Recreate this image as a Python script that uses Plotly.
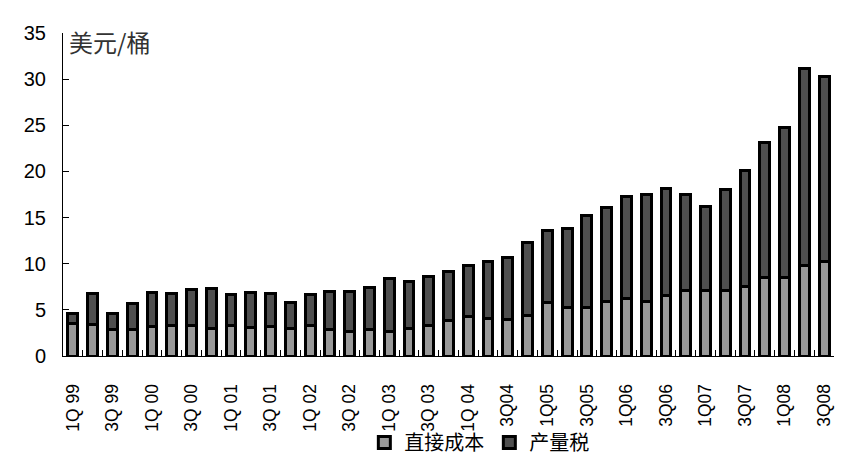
import plotly.graph_objects as go

# quarters 1Q99 .. 3Q08
quarters = [f"{q}Q{y:02d}" for y in [99, 0, 1, 2, 3, 4, 5, 6, 7, 8] for q in [1, 2, 3, 4]][:39]
tick_text = ["1Q 99", "", "3Q 99", "", "1Q 00", "", "3Q 00", "", "1Q 01", "", "3Q 01", "",
             "1Q 02", "", "3Q 02", "", "1Q 03", "", "3Q 03", "", "1Q 04", "", "3Q04", "",
             "1Q05", "", "3Q05", "", "1Q06", "", "3Q06", "", "1Q07", "", "3Q07", "",
             "1Q08", "", "3Q08"]

# 直接成本 (bottom) and total height
direct_cost = [3.5, 3.4, 2.85, 2.85, 3.2, 3.35, 3.35, 3.0, 3.35, 3.1, 3.2, 3.0, 3.35, 2.85,
               2.65, 2.85, 2.65, 3.0, 3.35, 3.9, 4.25, 4.05, 4.0, 4.4, 5.85, 5.3, 5.3, 5.9,
               6.2, 5.95, 6.55, 7.05, 7.05, 7.15, 7.5, 8.5, 8.5, 9.8, 10.2]
total = [4.6, 6.8, 4.6, 5.65, 6.9, 6.8, 7.2, 7.35, 6.65, 6.9, 6.8, 5.85, 6.65, 7.0, 7.0,
         7.4, 8.4, 8.05, 8.65, 9.2, 9.8, 10.2, 10.7, 12.35, 13.6, 13.85, 15.2, 16.1, 17.3,
         17.55, 18.1, 17.55, 16.2, 18.0, 20.15, 23.15, 24.8, 31.2, 30.3]
production_tax = [round(t - d, 2) for t, d in zip(total, direct_cost)]

cjk = "Noto Sans CJK SC"
latin = "Liberation Sans, Arial"

fig = go.Figure()
fig.add_trace(go.Bar(x=quarters, y=direct_cost, name="直接成本",
                     marker=dict(color="#999999", line=dict(color="black", width=3))))
fig.add_trace(go.Bar(x=quarters, y=production_tax, name="产量税",
                     marker=dict(color="#4f4f4f", line=dict(color="black", width=3))))

fig.update_layout(
    width=851, height=466,
    barmode="stack", bargap=0.5,
    plot_bgcolor="white", paper_bgcolor="white",
    margin=dict(l=55, r=25, t=25, b=111),
    font=dict(family=latin, color="black"),
    legend=dict(orientation="h", x=0.54, xanchor="center", y=-0.268, yanchor="middle",
                font=dict(family=cjk, size=20), itemwidth=30, traceorder="normal",
                bgcolor="rgba(0,0,0,0)"),
    showlegend=True,
)
fig.update_xaxes(type="category", tickvals=quarters, ticktext=tick_text, tickangle=-90,
                 tickson="boundaries", ticks="inside", ticklen=6, tickcolor="black",
                 showline=True, linecolor="black", linewidth=1, ticklabelstandoff=20,
                 tickfont=dict(size=17.5, family=latin), showgrid=False)
fig.update_yaxes(range=[0, 35], dtick=5, ticks="inside", ticklen=6, tickcolor="black",
                 showline=True, linecolor="black", linewidth=1, showgrid=False,
                 zeroline=False, ticklabelstandoff=12, tickfont=dict(size=20, family=latin))

fig.add_annotation(text="美元/桶", xref="paper", yref="paper", x=0.005, y=1.035,
                   xanchor="left", yanchor="top", showarrow=False,
                   font=dict(family=cjk, size=24, color="#333333"))

fig.write_html("out.html")
